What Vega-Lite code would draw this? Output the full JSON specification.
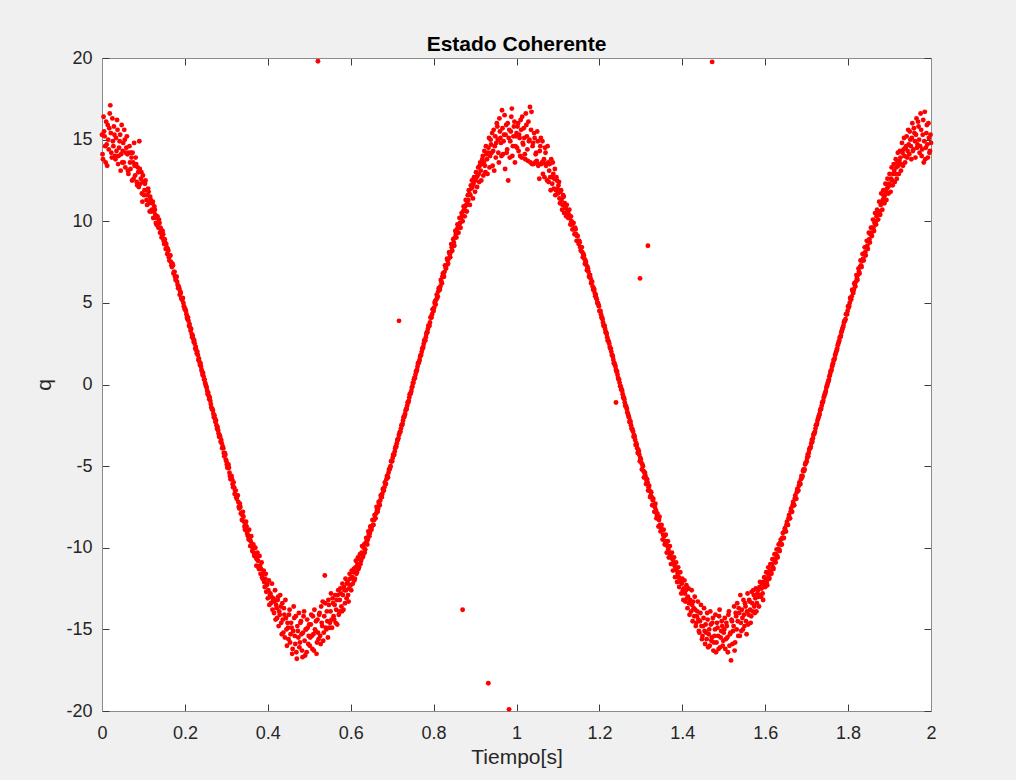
{
"$schema": "https://vega.github.io/schema/vega-lite/v6.json",
"width": 829, "height": 653,
"autosize": {"type": "none"},
"padding": {"left": 102, "top": 58, "right": 85, "bottom": 69},
"background": "#f0f0f0",
"config": {
  "view": {"fill": "white", "stroke": null},
  "font": "Liberation Sans",
  "axis": {"domainColor": "#8c8c8c", "domainWidth": 1, "tickColor": "#3c3c3c", "tickSize": -7, "labelColor": "#262626", "labelFontSize": 18, "labelFont": "Liberation Sans", "titleFont": "Liberation Sans", "titleFontSize": 21, "titleFontWeight": "normal", "titleColor": "#262626", "grid": false}
},
"title": {"text": "Estado Coherente", "fontSize": 21, "fontWeight": "bold", "color": "#000000", "font": "Liberation Sans", "offset": 8, "dy": 14, "anchor": "middle"},
"layer": [
{
"data": {"values": [
{"t":0,"q":15.3},{"t":0.0025,"q":13.8},{"t":0.005,"q":15.5},{"t":0.0075,"q":14.6},{"t":0.01,"q":16.1},{"t":0.0125,"q":13.4},{"t":0.015,"q":15.0},{"t":0.0175,"q":15.7},{"t":0.02,"q":17.1},{"t":0.0225,"q":14.2},
{"t":0.025,"q":16.3},{"t":0.0275,"q":14.6},{"t":0.03,"q":15.3},{"t":0.0325,"q":13.8},{"t":0.035,"q":14.3},{"t":0.0375,"q":15.6},{"t":0.04,"q":14.0},{"t":0.0425,"q":14.9},{"t":0.045,"q":13.1},{"t":0.0475,"q":15.9},
{"t":0.05,"q":14.3},{"t":0.0525,"q":13.6},{"t":0.055,"q":15.0},{"t":0.0575,"q":14.2},{"t":0.06,"q":15.2},{"t":0.0625,"q":13.1},{"t":0.065,"q":14.2},{"t":0.0675,"q":13.6},{"t":0.07,"q":14.2},{"t":0.0725,"q":12.5},
{"t":0.075,"q":13.6},{"t":0.0775,"q":14.8},{"t":0.08,"q":12.8},{"t":0.0825,"q":13.5},{"t":0.085,"q":12.2},{"t":0.0875,"q":13.0},{"t":0.09,"q":14.9},{"t":0.0925,"q":12.3},{"t":0.095,"q":13.0},{"t":0.0975,"q":11.2},
{"t":0.1,"q":12.4},{"t":0.1025,"q":11.9},{"t":0.105,"q":12.5},{"t":0.1075,"q":11.3},{"t":0.11,"q":11.6},{"t":0.1125,"q":11.8},{"t":0.115,"q":10.6},{"t":0.1175,"q":11.3},{"t":0.12,"q":10.7},{"t":0.1225,"q":11.2},
{"t":0.125,"q":10.6},{"t":0.1275,"q":10.7},{"t":0.13,"q":9.9},{"t":0.1325,"q":10.2},{"t":0.135,"q":9.7},{"t":0.1375,"q":10.1},{"t":0.14,"q":9.3},{"t":0.1425,"q":9.5},{"t":0.145,"q":9.1},{"t":0.1475,"q":9.2},
{"t":0.15,"q":8.6},{"t":0.1525,"q":8.7},{"t":0.155,"q":8.6},{"t":0.1575,"q":8.0},{"t":0.16,"q":8.2},{"t":0.1625,"q":7.6},{"t":0.165,"q":7.9},{"t":0.1675,"q":7.3},{"t":0.17,"q":7.4},{"t":0.1725,"q":6.8},
{"t":0.175,"q":6.9},{"t":0.1775,"q":6.4},{"t":0.18,"q":6.6},{"t":0.1825,"q":6.1},{"t":0.185,"q":6.0},{"t":0.1875,"q":5.5},{"t":0.19,"q":5.6},{"t":0.1925,"q":5.2},{"t":0.195,"q":5.3},{"t":0.1975,"q":4.8},
{"t":0.2,"q":4.6},{"t":0.2025,"q":4.5},{"t":0.205,"q":4.1},{"t":0.2075,"q":4.1},{"t":0.21,"q":3.6},{"t":0.2125,"q":3.5},{"t":0.215,"q":3.4},{"t":0.2175,"q":2.9},{"t":0.22,"q":2.8},{"t":0.2225,"q":2.7},
{"t":0.225,"q":2.2},{"t":0.2275,"q":2.1},{"t":0.23,"q":2.0},{"t":0.2325,"q":1.5},{"t":0.235,"q":1.4},{"t":0.2375,"q":1.3},{"t":0.24,"q":0.9},{"t":0.2425,"q":0.6},{"t":0.245,"q":0.5},{"t":0.2475,"q":0.3},
{"t":0.25,"q":0.0},{"t":0.2525,"q":-0.2},{"t":0.255,"q":-0.6},{"t":0.2575,"q":-0.7},{"t":0.26,"q":-0.8},{"t":0.2625,"q":-1.2},{"t":0.265,"q":-1.5},{"t":0.2675,"q":-1.6},{"t":0.27,"q":-2.0},{"t":0.2725,"q":-2.1},
{"t":0.275,"q":-2.2},{"t":0.2775,"q":-2.7},{"t":0.28,"q":-2.8},{"t":0.2825,"q":-3.2},{"t":0.285,"q":-3.2},{"t":0.2875,"q":-3.4},{"t":0.29,"q":-3.9},{"t":0.2925,"q":-3.9},{"t":0.295,"q":-4.4},{"t":0.2975,"q":-4.3},
{"t":0.3,"q":-4.7},{"t":0.3025,"q":-5.1},{"t":0.305,"q":-4.9},{"t":0.3075,"q":-5.4},{"t":0.31,"q":-5.8},{"t":0.3125,"q":-5.6},{"t":0.315,"q":-6.1},{"t":0.3175,"q":-6.0},{"t":0.32,"q":-6.7},{"t":0.3225,"q":-6.5},
{"t":0.325,"q":-7.0},{"t":0.3275,"q":-6.8},{"t":0.33,"q":-7.5},{"t":0.3325,"q":-7.3},{"t":0.335,"q":-7.9},{"t":0.3375,"q":-8.3},{"t":0.34,"q":-7.8},{"t":0.3425,"q":-8.4},{"t":0.345,"q":-8.9},{"t":0.3475,"q":-8.4},
{"t":0.35,"q":-9.1},{"t":0.3525,"q":-9.3},{"t":0.355,"q":-8.9},{"t":0.3575,"q":-9.9},{"t":0.36,"q":-9.3},{"t":0.3625,"q":-10.2},{"t":0.365,"q":-9.8},{"t":0.3675,"q":-10.5},{"t":0.37,"q":-10.0},{"t":0.3725,"q":-11.1},
{"t":0.375,"q":-10.3},{"t":0.3775,"q":-11.2},{"t":0.38,"q":-10.5},{"t":0.3825,"q":-11.6},{"t":0.385,"q":-10.9},{"t":0.3875,"q":-11.9},{"t":0.39,"q":-11.4},{"t":0.3925,"q":-12.4},{"t":0.395,"q":-11.6},{"t":0.3975,"q":-12.3},
{"t":0.4,"q":-13.1},{"t":0.4025,"q":-12.0},{"t":0.405,"q":-12.9},{"t":0.4075,"q":-13.4},{"t":0.41,"q":-12.2},{"t":0.4125,"q":-13.2},{"t":0.415,"q":-14.0},{"t":0.4175,"q":-12.6},{"t":0.42,"q":-13.5},{"t":0.4225,"q":-14.3},
{"t":0.425,"q":-13.0},{"t":0.4275,"q":-13.9},{"t":0.43,"q":-12.9},{"t":0.4325,"q":-14.6},{"t":0.435,"q":-13.4},{"t":0.4375,"q":-15.2},{"t":0.44,"q":-14.1},{"t":0.4425,"q":-13.2},{"t":0.445,"q":-15.0},{"t":0.4475,"q":-14.6},
{"t":0.45,"q":-15.6},{"t":0.4525,"q":-13.8},{"t":0.455,"q":-15.3},{"t":0.4575,"q":-14.9},{"t":0.46,"q":-16.2},{"t":0.4625,"q":-13.6},{"t":0.465,"q":-15.4},{"t":0.4675,"q":-14.2},{"t":0.47,"q":-16.8},{"t":0.4725,"q":-15.1},
{"t":0.475,"q":-14.0},{"t":0.4775,"q":-15.8},{"t":0.48,"q":-14.5},{"t":0.4825,"q":-16.3},{"t":0.485,"q":-15.2},{"t":0.4875,"q":-13.9},{"t":0.49,"q":-16.6},{"t":0.4925,"q":-15.0},{"t":0.495,"q":-14.4},{"t":0.4975,"q":-15.9},
{"t":0.5,"q":-14.7},{"t":0.5025,"q":-15.5},{"t":0.505,"q":-14.1},{"t":0.5075,"q":-16.2},{"t":0.51,"q":-15.3},{"t":0.5125,"q":-13.8},{"t":0.515,"q":-15.1},{"t":0.5175,"q":-16.5},{"t":0.52,"q":-14.4},{"t":0.5225,"q":-15.6},
{"t":0.525,"q":-14.0},{"t":0.5275,"q":-15.9},{"t":0.53,"q":-14.6},{"t":0.5325,"q":-13.3},{"t":0.535,"q":-15.2},{"t":0.5375,"q":-11.7},{"t":0.54,"q":-14.9},{"t":0.5425,"q":-13.9},{"t":0.545,"q":-15.5},{"t":0.5475,"q":-13.5},
{"t":0.55,"q":-14.6},{"t":0.5525,"q":-12.8},{"t":0.555,"q":-14.9},{"t":0.5575,"q":-13.4},{"t":0.56,"q":-14.4},{"t":0.5625,"q":-12.9},{"t":0.565,"q":-13.8},{"t":0.5675,"q":-14.7},{"t":0.57,"q":-12.6},{"t":0.5725,"q":-13.9},
{"t":0.575,"q":-12.5},{"t":0.5775,"q":-13.6},{"t":0.58,"q":-12.2},{"t":0.5825,"q":-13.8},{"t":0.585,"q":-12.6},{"t":0.5875,"q":-11.9},{"t":0.59,"q":-13.1},{"t":0.5925,"q":-12.1},{"t":0.595,"q":-13.3},{"t":0.5975,"q":-11.6},
{"t":0.6,"q":-12.3},{"t":0.6025,"q":-11.4},{"t":0.605,"q":-12.2},{"t":0.6075,"q":-11.3},{"t":0.61,"q":-11.9},{"t":0.6125,"q":-10.8},{"t":0.615,"q":-11.5},{"t":0.6175,"q":-10.6},{"t":0.62,"q":-11.2},{"t":0.6225,"q":-10.4},
{"t":0.625,"q":-10.8},{"t":0.6275,"q":-9.9},{"t":0.63,"q":-10.5},{"t":0.6325,"q":-9.8},{"t":0.635,"q":-10.1},{"t":0.6375,"q":-9.4},{"t":0.64,"q":-9.8},{"t":0.6425,"q":-9.0},{"t":0.645,"q":-9.3},{"t":0.6475,"q":-8.7},
{"t":0.65,"q":-8.9},{"t":0.6525,"q":-8.3},{"t":0.655,"q":-8.6},{"t":0.6575,"q":-8.0},{"t":0.66,"q":-8.2},{"t":0.6625,"q":-7.5},{"t":0.665,"q":-7.8},{"t":0.6675,"q":-7.2},{"t":0.67,"q":-7.4},{"t":0.6725,"q":-6.8},
{"t":0.675,"q":-6.9},{"t":0.6775,"q":-6.4},{"t":0.68,"q":-6.5},{"t":0.6825,"q":-6.0},{"t":0.685,"q":-6.1},{"t":0.6875,"q":-5.6},{"t":0.69,"q":-5.7},{"t":0.6925,"q":-5.2},{"t":0.695,"q":-5.1},{"t":0.6975,"q":-4.7},
{"t":0.7,"q":-4.7},{"t":0.7025,"q":-4.3},{"t":0.705,"q":-4.3},{"t":0.7075,"q":-3.9},{"t":0.71,"q":-3.8},{"t":0.7125,"q":-3.4},{"t":0.715,"q":-3.3},{"t":0.7175,"q":-3.0},{"t":0.72,"q":-2.9},{"t":0.7225,"q":-2.5},
{"t":0.725,"q":-2.4},{"t":0.7275,"q":-2.0},{"t":0.73,"q":-1.9},{"t":0.7325,"q":-1.6},{"t":0.735,"q":-1.5},{"t":0.7375,"q":-1.1},{"t":0.74,"q":-1.0},{"t":0.7425,"q":-0.6},{"t":0.745,"q":-0.5},{"t":0.7475,"q":-0.2},
{"t":0.75,"q":0.1},{"t":0.7525,"q":0.3},{"t":0.755,"q":0.4},{"t":0.7575,"q":0.8},{"t":0.76,"q":0.9},{"t":0.7625,"q":1.3},{"t":0.765,"q":1.4},{"t":0.7675,"q":1.7},{"t":0.77,"q":1.8},{"t":0.7725,"q":2.2},
{"t":0.775,"q":2.3},{"t":0.7775,"q":2.7},{"t":0.78,"q":2.7},{"t":0.7825,"q":3.1},{"t":0.785,"q":3.2},{"t":0.7875,"q":3.6},{"t":0.79,"q":3.6},{"t":0.7925,"q":4.1},{"t":0.795,"q":4.1},{"t":0.7975,"q":4.6},
{"t":0.8,"q":4.5},{"t":0.8025,"q":5.0},{"t":0.805,"q":4.9},{"t":0.8075,"q":5.5},{"t":0.81,"q":5.4},{"t":0.8125,"q":5.9},{"t":0.815,"q":5.8},{"t":0.8175,"q":6.4},{"t":0.82,"q":6.2},{"t":0.8225,"q":6.8},
{"t":0.825,"q":6.6},{"t":0.8275,"q":7.3},{"t":0.83,"q":7.1},{"t":0.8325,"q":7.7},{"t":0.835,"q":7.4},{"t":0.8375,"q":8.1},{"t":0.84,"q":7.8},{"t":0.8425,"q":8.6},{"t":0.845,"q":8.2},{"t":0.8475,"q":8.9},
{"t":0.85,"q":8.5},{"t":0.8525,"q":9.4},{"t":0.855,"q":9.0},{"t":0.8575,"q":9.8},{"t":0.86,"q":9.3},{"t":0.8625,"q":10.2},{"t":0.865,"q":9.6},{"t":0.8675,"q":10.5},{"t":0.87,"q":10.0},{"t":0.8725,"q":10.9},
{"t":0.875,"q":10.3},{"t":0.8775,"q":11.3},{"t":0.88,"q":10.6},{"t":0.8825,"q":11.6},{"t":0.885,"q":11.9},{"t":0.8875,"q":11.0},{"t":0.89,"q":12.2},{"t":0.8925,"q":12.5},{"t":0.895,"q":11.4},{"t":0.8975,"q":12.7},
{"t":0.9,"q":11.8},{"t":0.9025,"q":13.0},{"t":0.905,"q":12.1},{"t":0.9075,"q":13.3},{"t":0.91,"q":12.4},{"t":0.9125,"q":13.6},{"t":0.915,"q":12.5},{"t":0.9175,"q":13.8},{"t":0.92,"q":12.8},{"t":0.9225,"q":14.3},
{"t":0.925,"q":13.0},{"t":0.9275,"q":14.1},{"t":0.93,"q":12.9},{"t":0.9325,"q":14.5},{"t":0.935,"q":13.3},{"t":0.9375,"q":15.0},{"t":0.94,"q":14.2},{"t":0.9425,"q":13.4},{"t":0.945,"q":15.6},{"t":0.9475,"q":14.6},
{"t":0.95,"q":13.9},{"t":0.9525,"q":16.0},{"t":0.955,"q":15.0},{"t":0.9575,"q":13.6},{"t":0.96,"q":15.5},{"t":0.9625,"q":14.8},{"t":0.965,"q":16.8},{"t":0.9675,"q":14.1},{"t":0.97,"q":15.3},{"t":0.9725,"q":13.2},
{"t":0.975,"q":15.9},{"t":0.9775,"q":14.4},{"t":0.98,"q":12.5},{"t":0.9825,"q":15.6},{"t":0.985,"q":14.9},{"t":0.9875,"q":16.4},{"t":0.99,"q":14.0},{"t":0.9925,"q":15.2},{"t":0.995,"q":16.1},{"t":0.9975,"q":14.6},
{"t":1.0,"q":15.4},{"t":1.0025,"q":15.8},{"t":1.005,"q":14.3},{"t":1.0075,"q":15.1},{"t":1.01,"q":16.2},{"t":1.0125,"q":13.9},{"t":1.015,"q":14.8},{"t":1.0175,"q":15.7},{"t":1.02,"q":14.1},{"t":1.0225,"q":16.6},
{"t":1.025,"q":15.2},{"t":1.0275,"q":13.7},{"t":1.03,"q":14.9},{"t":1.0325,"q":17.0},{"t":1.035,"q":15.6},{"t":1.0375,"q":13.5},{"t":1.04,"q":14.8},{"t":1.0425,"q":15.4},{"t":1.045,"q":13.6},{"t":1.0475,"q":14.2},
{"t":1.05,"q":15.5},{"t":1.0525,"q":13.4},{"t":1.055,"q":12.6},{"t":1.0575,"q":14.6},{"t":1.06,"q":13.5},{"t":1.0625,"q":14.9},{"t":1.065,"q":13.6},{"t":1.0675,"q":12.7},{"t":1.07,"q":14.2},{"t":1.0725,"q":13.5},
{"t":1.075,"q":14.6},{"t":1.0775,"q":12.4},{"t":1.08,"q":13.5},{"t":1.0825,"q":11.9},{"t":1.085,"q":12.7},{"t":1.0875,"q":13.6},{"t":1.09,"q":12.0},{"t":1.0925,"q":13.2},{"t":1.095,"q":11.9},{"t":1.0975,"q":12.5},
{"t":1.1,"q":11.7},{"t":1.1025,"q":12.4},{"t":1.105,"q":11.1},{"t":1.1075,"q":11.9},{"t":1.11,"q":10.7},{"t":1.1125,"q":11.6},{"t":1.115,"q":10.5},{"t":1.1175,"q":10.9},{"t":1.12,"q":10.3},{"t":1.1225,"q":10.6},
{"t":1.125,"q":10.2},{"t":1.1275,"q":10.7},{"t":1.13,"q":9.8},{"t":1.1325,"q":10.0},{"t":1.135,"q":9.5},{"t":1.1375,"q":9.9},{"t":1.14,"q":9.2},{"t":1.1425,"q":9.5},{"t":1.145,"q":8.8},{"t":1.1475,"q":9.1},
{"t":1.15,"q":8.6},{"t":1.1525,"q":8.7},{"t":1.155,"q":8.2},{"t":1.1575,"q":8.4},{"t":1.16,"q":7.8},{"t":1.1625,"q":7.9},{"t":1.165,"q":7.4},{"t":1.1675,"q":7.5},{"t":1.17,"q":7.0},{"t":1.1725,"q":7.1},
{"t":1.175,"q":6.6},{"t":1.1775,"q":6.7},{"t":1.18,"q":6.2},{"t":1.1825,"q":6.3},{"t":1.185,"q":5.8},{"t":1.1875,"q":5.8},{"t":1.19,"q":5.4},{"t":1.1925,"q":5.3},{"t":1.195,"q":5.0},{"t":1.1975,"q":4.9},
{"t":1.2,"q":4.5},{"t":1.2025,"q":4.5},{"t":1.205,"q":4.1},{"t":1.2075,"q":4.0},{"t":1.21,"q":3.6},{"t":1.2125,"q":3.6},{"t":1.215,"q":3.2},{"t":1.2175,"q":3.1},{"t":1.22,"q":2.7},{"t":1.2225,"q":2.6},
{"t":1.225,"q":2.3},{"t":1.2275,"q":2.2},{"t":1.23,"q":1.8},{"t":1.2325,"q":1.7},{"t":1.235,"q":1.3},{"t":1.2375,"q":1.2},{"t":1.24,"q":0.9},{"t":1.2425,"q":0.8},{"t":1.245,"q":0.4},{"t":1.2475,"q":0.3},
{"t":1.25,"q":-0.1},{"t":1.2525,"q":-0.3},{"t":1.255,"q":-0.4},{"t":1.2575,"q":-0.8},{"t":1.26,"q":-0.9},{"t":1.2625,"q":-1.3},{"t":1.265,"q":-1.4},{"t":1.2675,"q":-1.7},{"t":1.27,"q":-1.9},{"t":1.2725,"q":-2.3},
{"t":1.275,"q":-2.3},{"t":1.2775,"q":-2.7},{"t":1.28,"q":-2.8},{"t":1.2825,"q":-3.2},{"t":1.285,"q":-3.2},{"t":1.2875,"q":-3.7},{"t":1.29,"q":-3.7},{"t":1.2925,"q":-4.2},{"t":1.295,"q":-4.1},{"t":1.2975,"q":-4.7},
{"t":1.3,"q":-4.6},{"t":1.3025,"q":-5.2},{"t":1.305,"q":-5.0},{"t":1.3075,"q":-5.7},{"t":1.31,"q":-5.4},{"t":1.3125,"q":-6.1},{"t":1.315,"q":-5.8},{"t":1.3175,"q":-6.5},{"t":1.32,"q":-6.2},{"t":1.3225,"q":-6.9},
{"t":1.325,"q":-6.6},{"t":1.3275,"q":-7.4},{"t":1.33,"q":-7.0},{"t":1.3325,"q":-7.8},{"t":1.335,"q":-7.3},{"t":1.3375,"q":-8.2},{"t":1.34,"q":-7.9},{"t":1.3425,"q":-8.7},{"t":1.345,"q":-8.1},{"t":1.3475,"q":-9.0},
{"t":1.35,"q":-8.6},{"t":1.3525,"q":-9.5},{"t":1.355,"q":-8.9},{"t":1.3575,"q":-9.8},{"t":1.36,"q":-9.2},{"t":1.3625,"q":-10.3},{"t":1.365,"q":-9.6},{"t":1.3675,"q":-10.6},{"t":1.37,"q":-9.9},{"t":1.3725,"q":-11.0},
{"t":1.375,"q":-10.3},{"t":1.3775,"q":-11.4},{"t":1.38,"q":-10.6},{"t":1.3825,"q":-11.8},{"t":1.385,"q":-10.9},{"t":1.3875,"q":-12.1},{"t":1.39,"q":-11.2},{"t":1.3925,"q":-12.4},{"t":1.395,"q":-11.5},{"t":1.3975,"q":-12.8},
{"t":1.4,"q":-11.9},{"t":1.4025,"q":-13.2},{"t":1.405,"q":-12.0},{"t":1.4075,"q":-13.3},{"t":1.41,"q":-12.3},{"t":1.4125,"q":-13.7},{"t":1.415,"q":-12.5},{"t":1.4175,"q":-14.1},{"t":1.42,"q":-13.4},{"t":1.4225,"q":-12.6},
{"t":1.425,"q":-14.5},{"t":1.4275,"q":-13.7},{"t":1.43,"q":-13.0},{"t":1.4325,"q":-14.8},{"t":1.435,"q":-14.2},{"t":1.4375,"q":-13.3},{"t":1.44,"q":-15.1},{"t":1.4425,"q":-14.5},{"t":1.445,"q":-13.5},{"t":1.4475,"q":-15.6},
{"t":1.45,"q":-14.8},{"t":1.4525,"q":-13.7},{"t":1.455,"q":-15.9},{"t":1.4575,"q":-15.2},{"t":1.46,"q":-14.0},{"t":1.4625,"q":-16.1},{"t":1.465,"q":-15.0},{"t":1.4675,"q":-13.9},{"t":1.47,"q":-15.7},{"t":1.4725,"q":-14.6},
{"t":1.475,"q":-16.3},{"t":1.4775,"q":-15.4},{"t":1.48,"q":-14.1},{"t":1.4825,"q":-15.8},{"t":1.485,"q":-14.9},{"t":1.4875,"q":-16.2},{"t":1.49,"q":-13.8},{"t":1.4925,"q":-15.5},{"t":1.495,"q":-14.5},{"t":1.4975,"q":-16.0},
{"t":1.5,"q":-15.2},{"t":1.5025,"q":-14.3},{"t":1.505,"q":-15.6},{"t":1.5075,"q":-14.8},{"t":1.51,"q":-16.4},{"t":1.5125,"q":-13.9},{"t":1.515,"q":-15.3},{"t":1.5175,"q":-16.9},{"t":1.52,"q":-14.5},{"t":1.5225,"q":-15.1},
{"t":1.525,"q":-13.6},{"t":1.5275,"q":-15.8},{"t":1.53,"q":-14.2},{"t":1.5325,"q":-13.4},{"t":1.535,"q":-15.4},{"t":1.5375,"q":-14.0},{"t":1.54,"q":-12.9},{"t":1.5425,"q":-15.1},{"t":1.545,"q":-14.3},{"t":1.5475,"q":-13.2},
{"t":1.55,"q":-14.8},{"t":1.5525,"q":-13.6},{"t":1.555,"q":-15.3},{"t":1.5575,"q":-12.8},{"t":1.56,"q":-14.1},{"t":1.5625,"q":-13.3},{"t":1.565,"q":-14.6},{"t":1.5675,"q":-12.7},{"t":1.57,"q":-13.9},{"t":1.5725,"q":-12.9},
{"t":1.575,"q":-14.0},{"t":1.5775,"q":-12.5},{"t":1.58,"q":-13.4},{"t":1.5825,"q":-12.6},{"t":1.585,"q":-13.6},{"t":1.5875,"q":-12.1},{"t":1.59,"q":-13.0},{"t":1.5925,"q":-12.2},{"t":1.595,"q":-13.2},{"t":1.5975,"q":-11.8},
{"t":1.6,"q":-12.4},{"t":1.6025,"q":-11.5},{"t":1.605,"q":-12.3},{"t":1.6075,"q":-11.2},{"t":1.61,"q":-11.9},{"t":1.6125,"q":-11.0},{"t":1.615,"q":-11.6},{"t":1.6175,"q":-10.7},{"t":1.62,"q":-11.3},{"t":1.6225,"q":-10.4},
{"t":1.625,"q":-10.9},{"t":1.6275,"q":-10.1},{"t":1.63,"q":-10.6},{"t":1.6325,"q":-9.8},{"t":1.635,"q":-10.2},{"t":1.6375,"q":-9.5},{"t":1.64,"q":-9.8},{"t":1.6425,"q":-9.1},{"t":1.645,"q":-9.4},{"t":1.6475,"q":-8.8},
{"t":1.65,"q":-9.0},{"t":1.6525,"q":-8.4},{"t":1.655,"q":-8.6},{"t":1.6575,"q":-8.0},{"t":1.66,"q":-8.2},{"t":1.6625,"q":-7.6},{"t":1.665,"q":-7.8},{"t":1.6675,"q":-7.2},{"t":1.67,"q":-7.4},{"t":1.6725,"q":-6.8},
{"t":1.675,"q":-7.0},{"t":1.6775,"q":-6.4},{"t":1.68,"q":-6.5},{"t":1.6825,"q":-6.0},{"t":1.685,"q":-6.1},{"t":1.6875,"q":-5.6},{"t":1.69,"q":-5.6},{"t":1.6925,"q":-5.2},{"t":1.695,"q":-5.2},{"t":1.6975,"q":-4.8},
{"t":1.7,"q":-4.7},{"t":1.7025,"q":-4.3},{"t":1.705,"q":-4.2},{"t":1.7075,"q":-3.9},{"t":1.71,"q":-3.8},{"t":1.7125,"q":-3.4},{"t":1.715,"q":-3.3},{"t":1.7175,"q":-3.0},{"t":1.72,"q":-2.9},{"t":1.7225,"q":-2.5},
{"t":1.725,"q":-2.4},{"t":1.7275,"q":-2.1},{"t":1.73,"q":-1.9},{"t":1.7325,"q":-1.6},{"t":1.735,"q":-1.5},{"t":1.7375,"q":-1.1},{"t":1.74,"q":-1.0},{"t":1.7425,"q":-0.7},{"t":1.745,"q":-0.5},{"t":1.7475,"q":-0.2},
{"t":1.75,"q":0.0},{"t":1.7525,"q":0.2},{"t":1.755,"q":0.5},{"t":1.7575,"q":0.8},{"t":1.76,"q":0.9},{"t":1.7625,"q":1.2},{"t":1.765,"q":1.5},{"t":1.7675,"q":1.6},{"t":1.77,"q":1.9},{"t":1.7725,"q":2.1},
{"t":1.775,"q":2.4},{"t":1.7775,"q":2.6},{"t":1.78,"q":2.9},{"t":1.7825,"q":3.0},{"t":1.785,"q":3.3},{"t":1.7875,"q":3.5},{"t":1.79,"q":3.8},{"t":1.7925,"q":3.9},{"t":1.795,"q":4.3},{"t":1.7975,"q":4.3},
{"t":1.8,"q":4.8},{"t":1.8025,"q":4.8},{"t":1.805,"q":5.3},{"t":1.8075,"q":5.2},{"t":1.81,"q":5.8},{"t":1.8125,"q":5.6},{"t":1.815,"q":6.2},{"t":1.8175,"q":6.0},{"t":1.82,"q":6.7},{"t":1.8225,"q":6.4},
{"t":1.825,"q":7.1},{"t":1.8275,"q":6.8},{"t":1.83,"q":7.6},{"t":1.8325,"q":7.2},{"t":1.835,"q":8.0},{"t":1.8375,"q":7.6},{"t":1.84,"q":8.4},{"t":1.8425,"q":7.9},{"t":1.845,"q":8.8},{"t":1.8475,"q":8.3},
{"t":1.85,"q":9.3},{"t":1.8525,"q":8.7},{"t":1.855,"q":9.6},{"t":1.8575,"q":9.1},{"t":1.86,"q":10.1},{"t":1.8625,"q":9.4},{"t":1.865,"q":10.5},{"t":1.8675,"q":9.8},{"t":1.87,"q":10.7},{"t":1.8725,"q":10.1},
{"t":1.875,"q":11.2},{"t":1.8775,"q":10.4},{"t":1.88,"q":11.7},{"t":1.8825,"q":10.7},{"t":1.885,"q":11.9},{"t":1.8875,"q":11.1},{"t":1.89,"q":12.3},{"t":1.8925,"q":11.3},{"t":1.895,"q":12.6},{"t":1.8975,"q":11.7},
{"t":1.9,"q":12.9},{"t":1.9025,"q":11.8},{"t":1.905,"q":13.3},{"t":1.9075,"q":12.2},{"t":1.91,"q":13.5},{"t":1.9125,"q":12.4},{"t":1.915,"q":13.8},{"t":1.9175,"q":12.6},{"t":1.92,"q":14.2},{"t":1.9225,"q":12.9},
{"t":1.925,"q":14.3},{"t":1.9275,"q":13.1},{"t":1.93,"q":14.8},{"t":1.9325,"q":13.4},{"t":1.935,"q":15.1},{"t":1.9375,"q":13.6},{"t":1.94,"q":14.6},{"t":1.9425,"q":13.9},{"t":1.945,"q":15.6},{"t":1.9475,"q":14.1},
{"t":1.95,"q":15.0},{"t":1.9525,"q":13.8},{"t":1.955,"q":16.0},{"t":1.9575,"q":14.4},{"t":1.96,"q":15.4},{"t":1.9625,"q":13.9},{"t":1.965,"q":16.3},{"t":1.9675,"q":14.7},{"t":1.97,"q":15.8},{"t":1.9725,"q":14.2},
{"t":1.975,"q":16.6},{"t":1.9775,"q":14.0},{"t":1.98,"q":15.3},{"t":1.9825,"q":13.6},{"t":1.985,"q":16.7},{"t":1.9875,"q":14.5},{"t":1.99,"q":15.9},{"t":1.9925,"q":13.9},{"t":1.995,"q":15.1},{"t":1.9975,"q":14.3},
{"t":2.0,"q":14.8},
{"t":0.00125,"q":14.1},{"t":0.00375,"q":16.4},{"t":0.00625,"q":15.2},{"t":0.00875,"q":13.6},{"t":0.01125,"q":14.7},{"t":0.01375,"q":15.9},{"t":0.01625,"q":14.4},{"t":0.01875,"q":16.6},{"t":0.02125,"q":15.4},{"t":0.02375,"q":13.9},
{"t":0.02625,"q":14.9},{"t":0.02875,"q":15.8},{"t":0.03125,"q":14.0},{"t":0.03375,"q":15.1},{"t":0.03625,"q":16.2},{"t":0.03875,"q":13.5},{"t":0.04125,"q":14.5},{"t":0.04375,"q":15.3},{"t":0.04625,"q":14.1},{"t":0.04875,"q":13.6},
{"t":0.05125,"q":14.8},{"t":0.05375,"q":15.6},{"t":0.05625,"q":13.3},{"t":0.05875,"q":14.5},{"t":0.06125,"q":14.1},{"t":0.06375,"q":12.9},{"t":0.06625,"q":14.6},{"t":0.06875,"q":13.2},{"t":0.07125,"q":13.9},{"t":0.07375,"q":14.2},
{"t":0.07625,"q":12.6},{"t":0.07875,"q":13.4},{"t":0.08125,"q":13.9},{"t":0.08375,"q":12.4},{"t":0.08625,"q":13.3},{"t":0.08875,"q":12.1},{"t":0.09125,"q":13.2},{"t":0.09375,"q":12.6},{"t":0.09625,"q":11.7},{"t":0.09875,"q":12.8},
{"t":0.10125,"q":11.6},{"t":0.10375,"q":12.3},{"t":0.10625,"q":11.9},{"t":0.10875,"q":11.0},{"t":0.11125,"q":12.0},{"t":0.11375,"q":11.1},{"t":0.11625,"q":11.5},{"t":0.11875,"q":10.6},{"t":0.12125,"q":11.1},{"t":0.12375,"q":10.2},
{"t":0.12625,"q":10.9},{"t":0.12875,"q":10.4},{"t":0.13125,"q":9.8},{"t":0.13375,"q":10.3},{"t":0.13625,"q":9.6},{"t":0.13875,"q":9.9},{"t":0.14125,"q":9.6},{"t":0.14375,"q":9.0},{"t":0.14625,"q":9.4},{"t":0.14875,"q":8.8},
{"t":0.15125,"q":8.9},{"t":0.15375,"q":8.3},{"t":0.15625,"q":8.4},{"t":0.15875,"q":8.3},{"t":0.16125,"q":7.8},{"t":0.16375,"q":7.9},{"t":0.16625,"q":7.5},{"t":0.16875,"q":7.2},{"t":0.17125,"q":7.3},{"t":0.17375,"q":6.9},
{"t":0.17625,"q":6.6},{"t":0.17875,"q":6.6},{"t":0.18125,"q":6.3},{"t":0.18375,"q":5.9},{"t":0.18625,"q":5.9},{"t":0.18875,"q":5.7},{"t":0.19125,"q":5.3},{"t":0.19375,"q":5.2},{"t":0.19625,"q":5.0},{"t":0.19875,"q":4.7},
{"t":0.20125,"q":4.6},{"t":0.20375,"q":4.3},{"t":0.20625,"q":4.0},{"t":0.20875,"q":3.9},{"t":0.21125,"q":3.7},{"t":0.21375,"q":3.3},{"t":0.21625,"q":3.1},{"t":0.21875,"q":3.0},{"t":0.22125,"q":2.6},{"t":0.22375,"q":2.5},
{"t":0.22625,"q":2.3},{"t":0.22875,"q":1.9},{"t":0.23125,"q":1.8},{"t":0.23375,"q":1.6},{"t":0.23625,"q":1.2},{"t":0.23875,"q":1.1},{"t":0.24125,"q":0.8},{"t":0.24375,"q":0.7},{"t":0.24625,"q":0.3},{"t":0.24875,"q":0.1},
{"t":0.25125,"q":-0.1},{"t":0.25375,"q":-0.4},{"t":0.25625,"q":-0.5},{"t":0.25875,"q":-0.9},{"t":0.26125,"q":-1.0},{"t":0.26375,"q":-1.4},{"t":0.26625,"q":-1.5},{"t":0.26875,"q":-1.8},{"t":0.27125,"q":-1.9},{"t":0.27375,"q":-2.3},
{"t":0.27625,"q":-2.5},{"t":0.27875,"q":-2.6},{"t":0.28125,"q":-3.0},{"t":0.28375,"q":-3.1},{"t":0.28625,"q":-3.5},{"t":0.28875,"q":-3.6},{"t":0.29125,"q":-3.8},{"t":0.29375,"q":-4.2},{"t":0.29625,"q":-4.2},{"t":0.29875,"q":-4.6},
{"t":0.30125,"q":-4.9},{"t":0.30375,"q":-5.0},{"t":0.30625,"q":-5.1},{"t":0.30875,"q":-5.6},{"t":0.31125,"q":-5.7},{"t":0.31375,"q":-5.8},{"t":0.31625,"q":-6.3},{"t":0.31875,"q":-6.3},{"t":0.32125,"q":-6.5},{"t":0.32375,"q":-6.9},
{"t":0.32625,"q":-6.8},{"t":0.32875,"q":-7.2},{"t":0.33125,"q":-7.6},{"t":0.33375,"q":-7.5},{"t":0.33625,"q":-7.9},{"t":0.33875,"q":-8.0},{"t":0.34125,"q":-8.1},{"t":0.34375,"q":-8.7},{"t":0.34625,"q":-8.6},{"t":0.34875,"q":-8.7},
{"t":0.35125,"q":-9.2},{"t":0.35375,"q":-9.5},{"t":0.35625,"q":-9.4},{"t":0.35875,"q":-9.6},{"t":0.36125,"q":-9.8},{"t":0.36375,"q":-10.0},{"t":0.36625,"q":-10.3},{"t":0.36875,"q":-10.4},{"t":0.37125,"q":-10.6},{"t":0.37375,"q":-10.7},
{"t":0.37625,"q":-10.8},{"t":0.37875,"q":-11.3},{"t":0.38125,"q":-11.1},{"t":0.38375,"q":-11.3},{"t":0.38625,"q":-11.8},{"t":0.38875,"q":-11.6},{"t":0.39125,"q":-12.1},{"t":0.39375,"q":-11.9},{"t":0.39625,"q":-12.7},{"t":0.39875,"q":-12.2},
{"t":0.40125,"q":-12.6},{"t":0.40375,"q":-13.5},{"t":0.40625,"q":-12.8},{"t":0.40875,"q":-13.0},{"t":0.41125,"q":-13.8},{"t":0.41375,"q":-13.1},{"t":0.41625,"q":-13.3},{"t":0.41875,"q":-14.4},{"t":0.42125,"q":-13.7},{"t":0.42375,"q":-13.2},
{"t":0.42625,"q":-14.8},{"t":0.42875,"q":-14.1},{"t":0.43125,"q":-13.6},{"t":0.43375,"q":-15.3},{"t":0.43625,"q":-14.4},{"t":0.43875,"q":-13.7},{"t":0.44125,"q":-15.5},{"t":0.44375,"q":-14.3},{"t":0.44625,"q":-16.0},{"t":0.44875,"q":-14.9},
{"t":0.45125,"q":-14.1},{"t":0.45375,"q":-15.8},{"t":0.45625,"q":-14.6},{"t":0.45875,"q":-16.5},{"t":0.46125,"q":-15.1},{"t":0.46375,"q":-14.3},{"t":0.46625,"q":-15.9},{"t":0.46875,"q":-16.4},{"t":0.47125,"q":-14.8},{"t":0.47375,"q":-15.5},
{"t":0.47625,"q":-16.1},{"t":0.47875,"q":-14.6},{"t":0.48125,"q":-15.3},{"t":0.48375,"q":-16.7},{"t":0.48625,"q":-14.2},{"t":0.48875,"q":-15.7},{"t":0.49125,"q":-15.0},{"t":0.49375,"q":-16.4},{"t":0.49625,"q":-14.9},{"t":0.49875,"q":-15.4},
{"t":0.50125,"q":-16.0},{"t":0.50375,"q":-14.7},{"t":0.50625,"q":-15.4},{"t":0.50875,"q":-14.2},{"t":0.51125,"q":-16.3},{"t":0.51375,"q":-15.0},{"t":0.51625,"q":-14.5},{"t":0.51875,"q":-15.8},{"t":0.52125,"q":-15.2},{"t":0.52375,"q":-14.1},
{"t":0.52625,"q":-15.4},{"t":0.52875,"q":-13.6},{"t":0.53125,"q":-14.8},{"t":0.53375,"q":-15.7},{"t":0.53625,"q":-14.2},{"t":0.53875,"q":-13.4},{"t":0.54125,"q":-15.0},{"t":0.54375,"q":-14.5},{"t":0.54625,"q":-13.2},{"t":0.54875,"q":-14.9},
{"t":0.55125,"q":-13.9},{"t":0.55375,"q":-14.4},{"t":0.55625,"q":-13.1},{"t":0.55875,"q":-14.2},{"t":0.56125,"q":-13.5},{"t":0.56375,"q":-14.6},{"t":0.56625,"q":-13.2},{"t":0.56875,"q":-12.9},{"t":0.57125,"q":-14.1},{"t":0.57375,"q":-13.2},
{"t":0.57625,"q":-12.8},{"t":0.57875,"q":-13.9},{"t":0.58125,"q":-12.9},{"t":0.58375,"q":-12.4},{"t":0.58625,"q":-13.4},{"t":0.58875,"q":-12.6},{"t":0.59125,"q":-12.2},{"t":0.59375,"q":-12.9},{"t":0.59625,"q":-12.5},{"t":0.59875,"q":-11.9},
{"t":0.60125,"q":-12.6},{"t":0.60375,"q":-11.8},{"t":0.60625,"q":-11.5},{"t":0.60875,"q":-12.0},{"t":0.61125,"q":-11.2},{"t":0.61375,"q":-11.6},{"t":0.61625,"q":-11.0},{"t":0.61875,"q":-11.3},{"t":0.62125,"q":-10.7},{"t":0.62375,"q":-11.0},
{"t":0.62625,"q":-10.3},{"t":0.62875,"q":-10.6},{"t":0.63125,"q":-10.0},{"t":0.63375,"q":-10.3},{"t":0.63625,"q":-9.7},{"t":0.63875,"q":-9.6},{"t":0.64125,"q":-9.5},{"t":0.64375,"q":-9.2},{"t":0.64625,"q":-9.1},{"t":0.64875,"q":-8.8},
{"t":0.65125,"q":-8.7},{"t":0.65375,"q":-8.6},{"t":0.65625,"q":-8.3},{"t":0.65875,"q":-8.2},{"t":0.66125,"q":-7.9},{"t":0.66375,"q":-7.7},{"t":0.66625,"q":-7.6},{"t":0.66875,"q":-7.3},{"t":0.67125,"q":-7.1},{"t":0.67375,"q":-6.9},
{"t":0.67625,"q":-6.7},{"t":0.67875,"q":-6.5},{"t":0.68125,"q":-6.3},{"t":0.68375,"q":-6.1},{"t":0.68625,"q":-5.8},{"t":0.68875,"q":-5.6},{"t":0.69125,"q":-5.4},{"t":0.69375,"q":-5.2},{"t":0.69625,"q":-5.0},{"t":0.69875,"q":-4.7},
{"t":0.70125,"q":-4.5},{"t":0.70375,"q":-4.3},{"t":0.70625,"q":-4.1},{"t":0.70875,"q":-3.8},{"t":0.71125,"q":-3.6},{"t":0.71375,"q":-3.4},{"t":0.71625,"q":-3.1},{"t":0.71875,"q":-2.9},{"t":0.72125,"q":-2.7},{"t":0.72375,"q":-2.5},
{"t":0.72625,"q":-2.2},{"t":0.72875,"q":-2.0},{"t":0.73125,"q":-1.8},{"t":0.73375,"q":-1.5},{"t":0.73625,"q":-1.3},{"t":0.73875,"q":-1.1},{"t":0.74125,"q":-0.8},{"t":0.74375,"q":-0.6},{"t":0.74625,"q":-0.4},{"t":0.74875,"q":-0.1},
{"t":0.75125,"q":0.1},{"t":0.75375,"q":0.4},{"t":0.75625,"q":0.6},{"t":0.75875,"q":0.8},{"t":0.76125,"q":1.1},{"t":0.76375,"q":1.3},{"t":0.76625,"q":1.5},{"t":0.76875,"q":1.8},{"t":0.77125,"q":2.0},{"t":0.77375,"q":2.2},
{"t":0.77625,"q":2.5},{"t":0.77875,"q":2.7},{"t":0.78125,"q":2.9},{"t":0.78375,"q":3.2},{"t":0.78625,"q":3.4},{"t":0.78875,"q":3.6},{"t":0.79125,"q":3.8},{"t":0.79375,"q":4.1},{"t":0.79625,"q":4.3},{"t":0.79875,"q":4.6},
{"t":0.80125,"q":4.7},{"t":0.80375,"q":5.1},{"t":0.80625,"q":5.2},{"t":0.80875,"q":5.3},{"t":0.81125,"q":5.7},{"t":0.81375,"q":5.9},{"t":0.81625,"q":6.0},{"t":0.81875,"q":6.3},{"t":0.82125,"q":6.6},{"t":0.82375,"q":6.7},
{"t":0.82625,"q":6.9},{"t":0.82875,"q":7.2},{"t":0.83125,"q":7.3},{"t":0.83375,"q":7.6},{"t":0.83625,"q":7.7},{"t":0.83875,"q":8.0},{"t":0.84125,"q":8.1},{"t":0.84375,"q":8.4},{"t":0.84625,"q":8.6},{"t":0.84875,"q":8.7},
{"t":0.85125,"q":9.0},{"t":0.85375,"q":9.2},{"t":0.85625,"q":9.5},{"t":0.85875,"q":9.6},{"t":0.86125,"q":9.7},{"t":0.86375,"q":9.9},{"t":0.86625,"q":10.2},{"t":0.86875,"q":10.3},{"t":0.87125,"q":10.6},{"t":0.87375,"q":10.7},
{"t":0.87625,"q":10.9},{"t":0.87875,"q":11.0},{"t":0.88125,"q":11.2},{"t":0.88375,"q":11.3},{"t":0.88625,"q":11.7},{"t":0.88875,"q":11.6},{"t":0.89125,"q":12.0},{"t":0.89375,"q":12.1},{"t":0.89625,"q":12.3},{"t":0.89875,"q":12.6},
{"t":0.90125,"q":12.5},{"t":0.90375,"q":12.7},{"t":0.90625,"q":12.8},{"t":0.90875,"q":12.9},{"t":0.91125,"q":13.4},{"t":0.91375,"q":13.1},{"t":0.91625,"q":13.5},{"t":0.91875,"q":14.0},{"t":0.92125,"q":13.6},{"t":0.92375,"q":13.4},
{"t":0.92625,"q":14.6},{"t":0.92875,"q":13.8},{"t":0.93125,"q":14.2},{"t":0.93375,"q":15.1},{"t":0.93625,"q":14.0},{"t":0.93875,"q":14.7},{"t":0.94125,"q":15.4},{"t":0.94375,"q":14.3},{"t":0.94625,"q":13.1},{"t":0.94875,"q":15.2},
{"t":0.95125,"q":14.8},{"t":0.95375,"q":15.8},{"t":0.95625,"q":14.2},{"t":0.95875,"q":16.3},{"t":0.96125,"q":15.1},{"t":0.96375,"q":14.0},{"t":0.96625,"q":15.7},{"t":0.96875,"q":14.9},{"t":0.97125,"q":16.5},{"t":0.97375,"q":15.3},
{"t":0.97625,"q":14.2},{"t":0.97875,"q":16.0},{"t":0.98125,"q":15.1},{"t":0.98375,"q":13.9},{"t":0.98625,"q":15.5},{"t":0.98875,"q":16.9},{"t":0.99125,"q":14.6},{"t":0.99375,"q":15.8},{"t":0.99625,"q":13.6},{"t":0.99875,"q":15.2},
{"t":1.00125,"q":14.5},{"t":1.00375,"q":16.0},{"t":1.00625,"q":15.3},{"t":1.00875,"q":14.0},{"t":1.01125,"q":15.6},{"t":1.01375,"q":16.4},{"t":1.01625,"q":14.7},{"t":1.01875,"q":15.1},{"t":1.02125,"q":13.8},{"t":1.02375,"q":15.9},
{"t":1.02625,"q":14.4},{"t":1.02875,"q":16.1},{"t":1.03125,"q":15.0},{"t":1.03375,"q":13.6},{"t":1.03625,"q":16.7},{"t":1.03875,"q":14.6},{"t":1.04125,"q":13.5},{"t":1.04375,"q":15.1},{"t":1.04625,"q":14.1},{"t":1.04875,"q":13.7},
{"t":1.05125,"q":14.9},{"t":1.05375,"q":13.5},{"t":1.05625,"q":14.3},{"t":1.05875,"q":15.1},{"t":1.06125,"q":13.6},{"t":1.06375,"q":12.9},{"t":1.06625,"q":13.8},{"t":1.06875,"q":14.5},{"t":1.07125,"q":13.4},{"t":1.07375,"q":12.5},
{"t":1.07625,"q":13.6},{"t":1.07875,"q":13.1},{"t":1.08125,"q":12.7},{"t":1.08375,"q":13.8},{"t":1.08625,"q":12.3},{"t":1.08875,"q":12.9},{"t":1.09125,"q":12.6},{"t":1.09375,"q":11.6},{"t":1.09625,"q":12.7},{"t":1.09875,"q":12.0},
{"t":1.10125,"q":12.2},{"t":1.10375,"q":11.4},{"t":1.10625,"q":11.8},{"t":1.10875,"q":11.3},{"t":1.11125,"q":11.0},{"t":1.11375,"q":11.5},{"t":1.11625,"q":11.1},{"t":1.11875,"q":10.8},{"t":1.12125,"q":11.0},{"t":1.12375,"q":10.5},
{"t":1.12625,"q":10.4},{"t":1.12875,"q":10.2},{"t":1.13125,"q":10.3},{"t":1.13375,"q":9.8},{"t":1.13625,"q":9.9},{"t":1.13875,"q":9.5},{"t":1.14125,"q":9.6},{"t":1.14375,"q":9.2},{"t":1.14625,"q":9.1},{"t":1.14875,"q":8.8},
{"t":1.15125,"q":8.8},{"t":1.15375,"q":8.4},{"t":1.15625,"q":8.4},{"t":1.15875,"q":8.1},{"t":1.16125,"q":8.0},{"t":1.16375,"q":7.7},{"t":1.16625,"q":7.6},{"t":1.16875,"q":7.3},{"t":1.17125,"q":7.2},{"t":1.17375,"q":6.9},
{"t":1.17625,"q":6.7},{"t":1.17875,"q":6.5},{"t":1.18125,"q":6.3},{"t":1.18375,"q":6.0},{"t":1.18625,"q":5.9},{"t":1.18875,"q":5.6},{"t":1.19125,"q":5.5},{"t":1.19375,"q":5.2},{"t":1.19625,"q":5.0},{"t":1.19875,"q":4.8},
{"t":1.20125,"q":4.5},{"t":1.20375,"q":4.3},{"t":1.20625,"q":4.1},{"t":1.20875,"q":3.8},{"t":1.21125,"q":3.6},{"t":1.21375,"q":3.4},{"t":1.21625,"q":3.2},{"t":1.21875,"q":2.9},{"t":1.22125,"q":2.7},{"t":1.22375,"q":2.5},
{"t":1.22625,"q":2.2},{"t":1.22875,"q":2.0},{"t":1.23125,"q":1.8},{"t":1.23375,"q":1.5},{"t":1.23625,"q":1.3},{"t":1.23875,"q":1.1},{"t":1.24125,"q":0.8},{"t":1.24375,"q":0.6},{"t":1.24625,"q":0.3},{"t":1.24875,"q":0.1},
{"t":1.25125,"q":-0.1},{"t":1.25375,"q":-0.3},{"t":1.25625,"q":-0.6},{"t":1.25875,"q":-0.8},{"t":1.26125,"q":-1.1},{"t":1.26375,"q":-1.3},{"t":1.26625,"q":-1.5},{"t":1.26875,"q":-1.8},{"t":1.27125,"q":-2.0},{"t":1.27375,"q":-2.2},
{"t":1.27625,"q":-2.5},{"t":1.27875,"q":-2.7},{"t":1.28125,"q":-2.9},{"t":1.28375,"q":-3.1},{"t":1.28625,"q":-3.4},{"t":1.28875,"q":-3.6},{"t":1.29125,"q":-3.9},{"t":1.29375,"q":-4.0},{"t":1.29625,"q":-4.3},{"t":1.29875,"q":-4.5},
{"t":1.30125,"q":-4.8},{"t":1.30375,"q":-4.9},{"t":1.30625,"q":-5.3},{"t":1.30875,"q":-5.4},{"t":1.31125,"q":-5.6},{"t":1.31375,"q":-5.9},{"t":1.31625,"q":-6.0},{"t":1.31875,"q":-6.3},{"t":1.32125,"q":-6.5},{"t":1.32375,"q":-6.8},
{"t":1.32625,"q":-6.9},{"t":1.32875,"q":-7.1},{"t":1.33125,"q":-7.4},{"t":1.33375,"q":-7.5},{"t":1.33625,"q":-7.7},{"t":1.33875,"q":-8.0},{"t":1.34125,"q":-8.2},{"t":1.34375,"q":-8.3},{"t":1.34625,"q":-8.6},{"t":1.34875,"q":-8.8},
{"t":1.35125,"q":-8.9},{"t":1.35375,"q":-9.2},{"t":1.35625,"q":-9.3},{"t":1.35875,"q":-9.6},{"t":1.36125,"q":-9.7},{"t":1.36375,"q":-9.9},{"t":1.36625,"q":-10.1},{"t":1.36875,"q":-10.3},{"t":1.37125,"q":-10.4},{"t":1.37375,"q":-10.6},
{"t":1.37625,"q":-10.7},{"t":1.37875,"q":-10.9},{"t":1.38125,"q":-11.1},{"t":1.38375,"q":-11.3},{"t":1.38625,"q":-11.4},{"t":1.38875,"q":-11.6},{"t":1.39125,"q":-11.8},{"t":1.39375,"q":-11.9},{"t":1.39625,"q":-12.1},{"t":1.39875,"q":-12.2},
{"t":1.40125,"q":-12.6},{"t":1.40375,"q":-12.5},{"t":1.40625,"q":-12.8},{"t":1.40875,"q":-12.6},{"t":1.41125,"q":-13.1},{"t":1.41375,"q":-13.0},{"t":1.41625,"q":-13.4},{"t":1.41875,"q":-13.2},{"t":1.42125,"q":-13.9},{"t":1.42375,"q":-13.5},
{"t":1.42625,"q":-13.3},{"t":1.42875,"q":-14.2},{"t":1.43125,"q":-13.8},{"t":1.43375,"q":-14.6},{"t":1.43625,"q":-13.9},{"t":1.43875,"q":-14.4},{"t":1.44125,"q":-15.2},{"t":1.44375,"q":-14.0},{"t":1.44625,"q":-14.8},{"t":1.44875,"q":-15.4},
{"t":1.45125,"q":-14.3},{"t":1.45375,"q":-15.1},{"t":1.45625,"q":-14.7},{"t":1.45875,"q":-15.6},{"t":1.46125,"q":-14.4},{"t":1.46375,"q":-15.3},{"t":1.46625,"q":-16.0},{"t":1.46875,"q":-14.7},{"t":1.47125,"q":-15.5},{"t":1.47375,"q":-14.3},
{"t":1.47625,"q":-15.8},{"t":1.47875,"q":-15.0},{"t":1.48125,"q":-16.4},{"t":1.48375,"q":-14.6},{"t":1.48625,"q":-15.4},{"t":1.48875,"q":-14.2},{"t":1.49125,"q":-16.1},{"t":1.49375,"q":-15.1},{"t":1.49625,"q":-14.8},{"t":1.49875,"q":-15.7},
{"t":1.50125,"q":-15.0},{"t":1.50375,"q":-16.2},{"t":1.50625,"q":-14.6},{"t":1.50875,"q":-15.5},{"t":1.51125,"q":-14.1},{"t":1.51375,"q":-16.0},{"t":1.51625,"q":-15.2},{"t":1.51875,"q":-14.4},{"t":1.52125,"q":-15.9},{"t":1.52375,"q":-14.8},
{"t":1.52625,"q":-16.3},{"t":1.52875,"q":-14.0},{"t":1.53125,"q":-15.0},{"t":1.53375,"q":-14.5},{"t":1.53625,"q":-13.7},{"t":1.53875,"q":-15.4},{"t":1.54125,"q":-14.6},{"t":1.54375,"q":-13.8},{"t":1.54625,"q":-15.0},{"t":1.54875,"q":-14.1},
{"t":1.55125,"q":-13.4},{"t":1.55375,"q":-14.5},{"t":1.55625,"q":-13.9},{"t":1.55875,"q":-14.7},{"t":1.56125,"q":-13.2},{"t":1.56375,"q":-13.8},{"t":1.56625,"q":-14.2},{"t":1.56875,"q":-13.4},{"t":1.57125,"q":-12.6},{"t":1.57375,"q":-13.6},
{"t":1.57625,"q":-13.1},{"t":1.57875,"q":-13.9},{"t":1.58125,"q":-12.8},{"t":1.58375,"q":-13.0},{"t":1.58625,"q":-12.4},{"t":1.58875,"q":-12.9},{"t":1.59125,"q":-12.5},{"t":1.59375,"q":-12.8},{"t":1.59625,"q":-12.1},{"t":1.59875,"q":-12.3},
{"t":1.60125,"q":-11.9},{"t":1.60375,"q":-12.1},{"t":1.60625,"q":-11.6},{"t":1.60875,"q":-11.8},{"t":1.61125,"q":-11.4},{"t":1.61375,"q":-11.5},{"t":1.61625,"q":-11.0},{"t":1.61875,"q":-11.2},{"t":1.62125,"q":-10.7},{"t":1.62375,"q":-10.8},
{"t":1.62625,"q":-10.4},{"t":1.62875,"q":-10.5},{"t":1.63125,"q":-10.1},{"t":1.63375,"q":-10.1},{"t":1.63625,"q":-9.7},{"t":1.63875,"q":-9.8},{"t":1.64125,"q":-9.4},{"t":1.64375,"q":-9.4},{"t":1.64625,"q":-9.0},{"t":1.64875,"q":-9.0},
{"t":1.65125,"q":-8.6},{"t":1.65375,"q":-8.6},{"t":1.65625,"q":-8.2},{"t":1.65875,"q":-8.2},{"t":1.66125,"q":-7.8},{"t":1.66375,"q":-7.8},{"t":1.66625,"q":-7.4},{"t":1.66875,"q":-7.4},{"t":1.67125,"q":-7.0},{"t":1.67375,"q":-7.0},
{"t":1.67625,"q":-6.6},{"t":1.67875,"q":-6.5},{"t":1.68125,"q":-6.2},{"t":1.68375,"q":-6.1},{"t":1.68625,"q":-5.8},{"t":1.68875,"q":-5.7},{"t":1.69125,"q":-5.3},{"t":1.69375,"q":-5.3},{"t":1.69625,"q":-4.9},{"t":1.69875,"q":-4.8},
{"t":1.70125,"q":-4.5},{"t":1.70375,"q":-4.4},{"t":1.70625,"q":-4.0},{"t":1.70875,"q":-3.9},{"t":1.71125,"q":-3.6},{"t":1.71375,"q":-3.5},{"t":1.71625,"q":-3.1},{"t":1.71875,"q":-3.0},{"t":1.72125,"q":-2.7},{"t":1.72375,"q":-2.5},
{"t":1.72625,"q":-2.2},{"t":1.72875,"q":-2.0},{"t":1.73125,"q":-1.8},{"t":1.73375,"q":-1.5},{"t":1.73625,"q":-1.3},{"t":1.73875,"q":-1.1},{"t":1.74125,"q":-0.8},{"t":1.74375,"q":-0.6},{"t":1.74625,"q":-0.4},{"t":1.74875,"q":-0.1},
{"t":1.75125,"q":0.1},{"t":1.75375,"q":0.3},{"t":1.75625,"q":0.6},{"t":1.75875,"q":0.8},{"t":1.76125,"q":1.1},{"t":1.76375,"q":1.3},{"t":1.76625,"q":1.5},{"t":1.76875,"q":1.8},{"t":1.77125,"q":2.0},{"t":1.77375,"q":2.2},
{"t":1.77625,"q":2.5},{"t":1.77875,"q":2.7},{"t":1.78125,"q":2.9},{"t":1.78375,"q":3.2},{"t":1.78625,"q":3.4},{"t":1.78875,"q":3.6},{"t":1.79125,"q":3.9},{"t":1.79375,"q":4.0},{"t":1.79625,"q":4.3},{"t":1.79875,"q":4.5},
{"t":1.80125,"q":4.7},{"t":1.80375,"q":5.0},{"t":1.80625,"q":5.2},{"t":1.80875,"q":5.4},{"t":1.81125,"q":5.7},{"t":1.81375,"q":5.8},{"t":1.81625,"q":6.1},{"t":1.81875,"q":6.3},{"t":1.82125,"q":6.5},{"t":1.82375,"q":6.7},
{"t":1.82625,"q":6.9},{"t":1.82875,"q":7.2},{"t":1.83125,"q":7.3},{"t":1.83375,"q":7.6},{"t":1.83625,"q":7.7},{"t":1.83875,"q":8.0},{"t":1.84125,"q":8.1},{"t":1.84375,"q":8.4},{"t":1.84625,"q":8.5},{"t":1.84875,"q":8.8},
{"t":1.85125,"q":8.9},{"t":1.85375,"q":9.2},{"t":1.85625,"q":9.3},{"t":1.85875,"q":9.6},{"t":1.86125,"q":9.6},{"t":1.86375,"q":9.9},{"t":1.86625,"q":10.0},{"t":1.86875,"q":10.3},{"t":1.87125,"q":10.4},{"t":1.87375,"q":10.6},
{"t":1.87625,"q":10.6},{"t":1.87875,"q":11.0},{"t":1.88125,"q":11.1},{"t":1.88375,"q":11.3},{"t":1.88625,"q":11.5},{"t":1.88875,"q":11.6},{"t":1.89125,"q":11.8},{"t":1.89375,"q":12.0},{"t":1.89625,"q":12.1},{"t":1.89875,"q":12.3},
{"t":1.90125,"q":12.2},{"t":1.90375,"q":12.6},{"t":1.90625,"q":12.5},{"t":1.90875,"q":12.9},{"t":1.91125,"q":13.1},{"t":1.91375,"q":12.9},{"t":1.91625,"q":13.3},{"t":1.91875,"q":13.6},{"t":1.92125,"q":13.4},{"t":1.92375,"q":13.7},
{"t":1.92625,"q":13.9},{"t":1.92875,"q":13.5},{"t":1.93125,"q":14.2},{"t":1.93375,"q":14.4},{"t":1.93625,"q":14.0},{"t":1.93875,"q":14.5},{"t":1.94125,"q":15.2},{"t":1.94375,"q":14.3},{"t":1.94625,"q":14.7},{"t":1.94875,"q":15.5},
{"t":1.95125,"q":14.6},{"t":1.95375,"q":15.1},{"t":1.95625,"q":14.3},{"t":1.95875,"q":15.7},{"t":1.96125,"q":14.9},{"t":1.96375,"q":15.3},{"t":1.96625,"q":14.5},{"t":1.96875,"q":16.1},{"t":1.97125,"q":15.0},{"t":1.97375,"q":14.6},
{"t":1.97625,"q":15.6},{"t":1.97875,"q":14.4},{"t":1.98125,"q":16.2},{"t":1.98375,"q":14.9},{"t":1.98625,"q":13.8},{"t":1.98875,"q":15.4},{"t":1.99125,"q":14.7},{"t":1.99375,"q":16.0},{"t":1.99625,"q":14.2},{"t":1.99875,"q":15.3},
{"t":0.521,"q":19.8},{"t":1.472,"q":19.76},{"t":0.7165,"q":3.9},{"t":0.87,"q":-13.8},{"t":0.932,"q":-18.3},{"t":0.982,"q":-19.9},{"t":1.24,"q":-1.1},{"t":1.298,"q":6.5},{"t":1.317,"q":8.5}
]},
"mark": {"type": "point", "filled": true, "shape": "circle", "size": 24, "color": "#ff0000", "opacity": 1, "strokeWidth": 0},
"encoding": {
  "x": {"field": "t", "type": "quantitative", "scale": {"domain": [0, 2], "nice": false, "zero": false},
        "axis": {"title": "Tiempo[s]", "values": [0, 0.2, 0.4, 0.6, 0.8, 1, 1.2, 1.4, 1.6, 1.8, 2], "labelExpr": "'' + datum.value", "labelPadding": 20, "titlePadding": 4, "labelFlush": false}},
  "y": {"field": "q", "type": "quantitative", "scale": {"domain": [-20, 20], "nice": false, "zero": false},
        "axis": {"title": "q", "values": [-20, -15, -10, -5, 0, 5, 10, 15, 20], "labelExpr": "'' + datum.value", "labelPadding": 17, "titlePadding": 11, "labelFlush": false}}
}
},
{
"data": {"values": [{"t": 0, "q": 0}]},
"mark": {"type": "point", "opacity": 0},
"encoding": {
  "x": {"field": "t", "type": "quantitative", "axis": {"orient": "top", "labels": false, "title": null, "values": [0, 0.2, 0.4, 0.6, 0.8, 1, 1.2, 1.4, 1.6, 1.8, 2]}},
  "y": {"field": "q", "type": "quantitative", "axis": {"orient": "right", "labels": false, "title": null, "values": [-20, -15, -10, -5, 0, 5, 10, 15, 20]}}
}
}
],
"resolve": {"axis": {"x": "independent", "y": "independent"}}
}
